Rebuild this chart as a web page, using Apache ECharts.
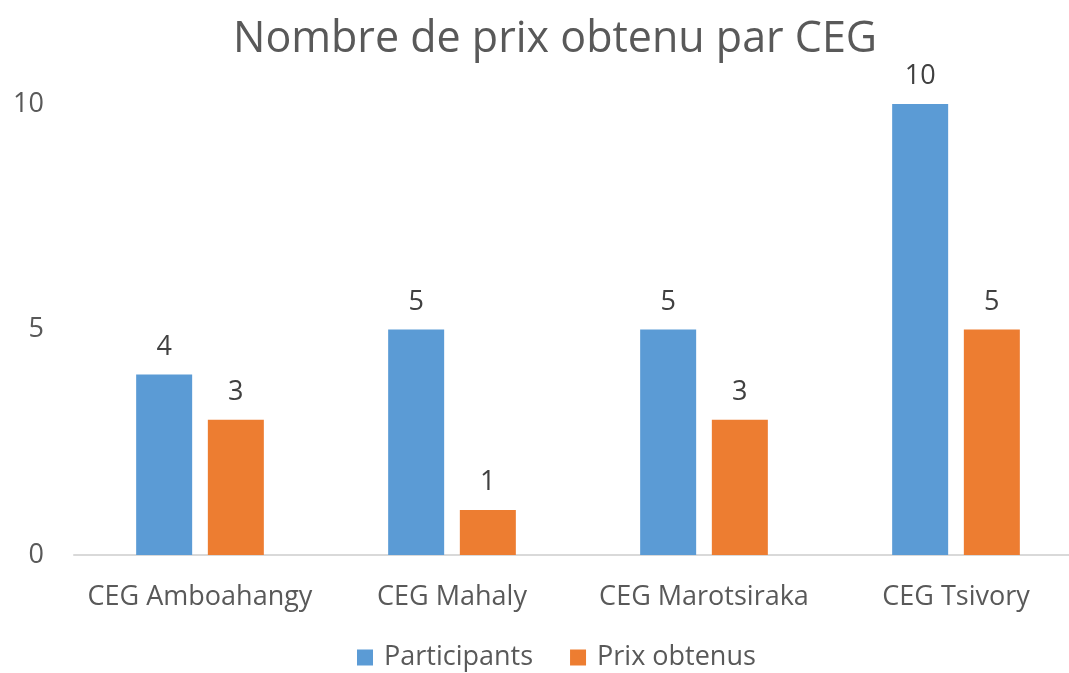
<!DOCTYPE html>
<html>
<head>
<meta charset="utf-8">
<script src="https://cdn.jsdelivr.net/npm/echarts@6/dist/echarts.min.js"></script>
<style>
  html, body { margin: 0; padding: 0; background: #fff; }
  #chart { width: 1069px; height: 673px; }
</style>
</head>
<body>
<div id="chart"></div>
<script>
// données du graphique
var categories = ["CEG Amboahangy", "CEG Mahaly", "CEG Marotsiraka", "CEG Tsivory"];
var participants = [4, 5, 5, 10];
var prixObtenus = [3, 1, 3, 5];
var yTicks = [0, 5, 10];

var font = "'Open Sans', 'Noto Sans', sans-serif";
var textColor = "#595959";
var labelSize = 27;

var myChart = echarts.init(document.getElementById("chart"));
myChart.setOption({
  animation: false,
  textStyle: { fontFamily: font },
  title: {
    text: "Nombre de prix obtenu par CEG",
    left: 233,
    top: 18,
    padding: 0,
    textStyle: { fontFamily: font, fontSize: 43, fontWeight: "normal", color: textColor }
  },
  grid: { left: 74, width: 1008, top: 104, height: 451, outerBoundsMode: "none" },
  legend: {
    top: 644,
    left: 357,
    padding: 0,
    itemWidth: 16,
    itemHeight: 16,
    itemGap: 37,
    icon: "rect",
    textStyle: { fontFamily: font, fontSize: labelSize, color: textColor, padding: [0, 0, 0, 6] },
    data: ["Participants", "Prix obtenus"]
  },
  xAxis: {
    type: "category",
    data: categories,
    axisTick: { show: false },
    axisLine: { lineStyle: { color: "#d9d9d9", width: 2 } },
    axisLabel: { interval: 0, fontFamily: font, fontSize: labelSize, color: textColor, margin: 29 }
  },
  yAxis: {
    type: "value",
    min: yTicks[0],
    max: yTicks[yTicks.length - 1],
    interval: 5,
    splitLine: { show: false },
    axisLine: { show: false },
    axisTick: { show: false },
    axisLabel: { fontFamily: font, fontSize: labelSize, color: textColor, margin: 30 }
  },
  series: [
    {
      name: "Participants",
      type: "bar",
      data: participants,
      barWidth: 56,
      barGap: "28%",
      itemStyle: { color: "#5b9bd5" },
      label: { show: true, position: "top", distance: 14, fontFamily: font, fontSize: labelSize, color: "#404040" }
    },
    {
      name: "Prix obtenus",
      type: "bar",
      data: prixObtenus,
      barWidth: 56,
      itemStyle: { color: "#ed7d31" },
      label: { show: true, position: "top", distance: 14, fontFamily: font, fontSize: labelSize, color: "#404040" }
    }
  ]
});
window.onresize = function () {
  myChart.resize();
};
</script>
</body>
</html>
